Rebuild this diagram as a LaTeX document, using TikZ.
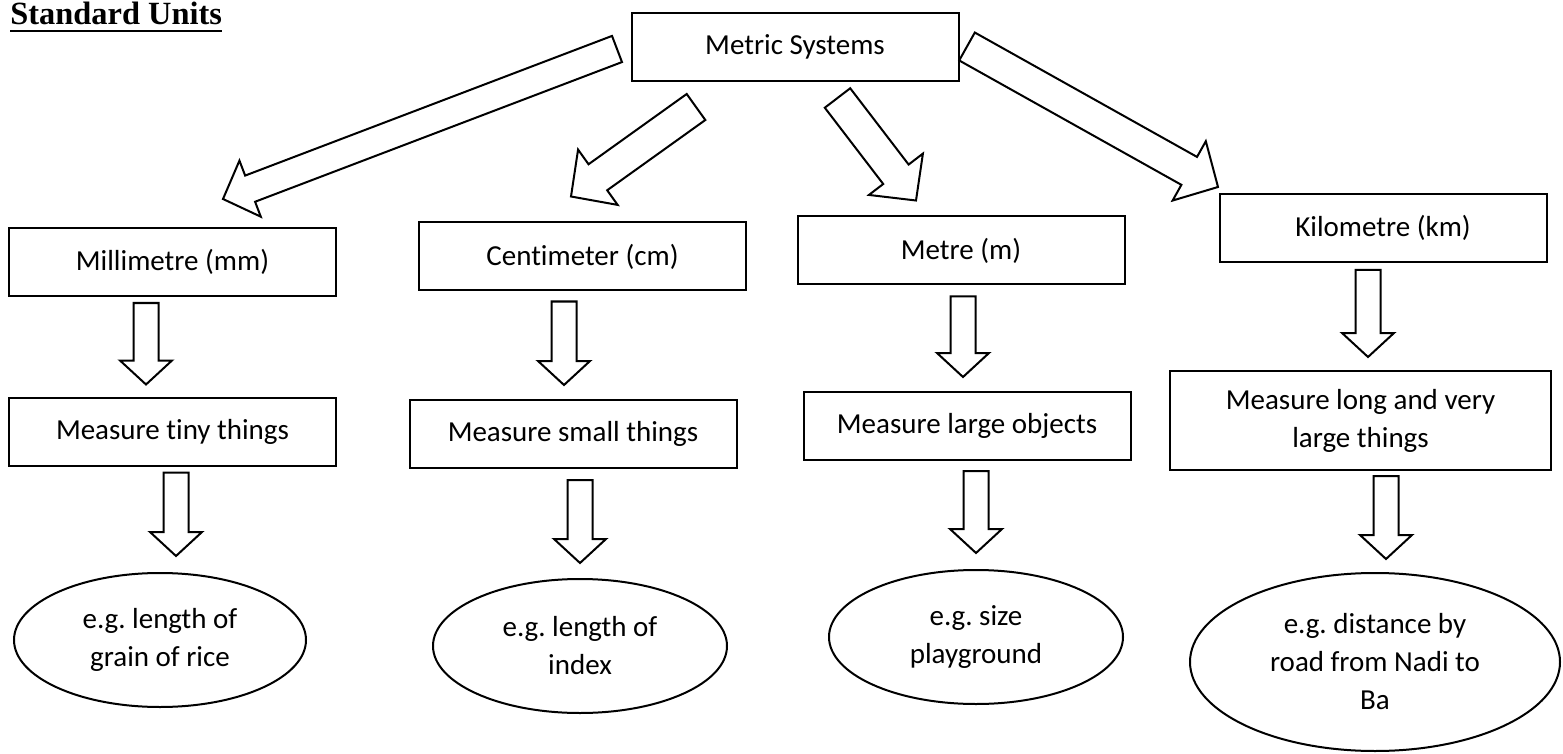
\documentclass[tikz,border=0pt]{standalone}
\usepackage{fontspec}
\setmainfont{Carlito}[Ligatures=NoCommon]
\newfontfamily\headfont{Liberation Serif}
\usetikzlibrary{calc,shapes.geometric}
\frenchspacing

\begin{document}
\begin{tikzpicture}[
  x=0.5pt, y=-0.5pt,
  font=\fontsize{14.5}{19}\selectfont,
  unitbox/.style={rectangle,draw=black,line width=1pt,fill=white,
                  minimum width=163.5pt,minimum height=34pt,inner sep=0pt,align=center},
  example/.style={ellipse,draw=black,line width=1pt,fill=white,
                  minimum width=147pt,minimum height=67pt,inner sep=0pt,align=center},
  hollow/.style n args={3}{draw=black,line width=1pt,fill=white,line join=miter,
    to path={let \p1=(\tikztostart), \p2=(\tikztotarget),
                 \n1={atan2(\y2-\y1,\x2-\x1)},
                 \n2={veclen(\x2-\x1,\y2-\y1)-#3},
                 \n3={#2-#1} in
      ($(\p1)+(\n1+90:#1)$) -- ++(\n1:\n2) -- ++(\n1+90:\n3) -- (\p2)
      -- ($(\p1)+(\n1:\n2)+(\n1-90:#2)$) -- ++(\n1+90:\n3)
      -- ++(\n1+180:\n2) -- cycle}},
  fanout/.style={hollow={8pt}{17pt}{16.5pt}},
  drop/.style={hollow={6.25pt}{13pt}{12pt}},
]
\fill[white] (0,0) rectangle (1563,754);
\useasboundingbox (0,0) rectangle (1563,754);

%% ---------------------------------------------------------------- title
\node[anchor=base west,inner sep=0pt,font={\headfont\bfseries\fontsize{16.2}{19}\selectfont}]
  (title) at (10,25)
  {\setbox0\hbox{Standard Units}\rlap{\rule[-3.5pt]{\wd0}{1pt}}\box0};

%% ---------------------------------------------------------------- units
\node[unitbox] (ms) at (795,47) {Metric Systems};
\node[unitbox] (mm) at (172.5,262) {Millimetre (mm)};
\node[unitbox] (cm) at (582.5,256.5) {Centimeter (cm)};
\node[unitbox] (m) at (961,250.5) {Metre (m)};
\node[unitbox] (km) at (1383,228) {Kilometre (km)};

%% ------------------------------------------------------------- measures
\node[unitbox] (tiny) at (172.5,431.5) {Measure tiny things};
\node[unitbox] (small) at (573,434) {Measure small things};
\node[unitbox] (large) at (967,426) {Measure large objects};
\node[unitbox,minimum width=190.5pt,minimum height=49.5pt] (long) at (1360.5,420.5)
  {Measure long and very\\ large things};

%% ------------------------------------------------------------- examples
\node[example,minimum width=146pt] (e1) at (160,640) {e.g. length of\\ grain of rice};
\node[example] (e2) at (580,646) {e.g. length of\\ index};
\node[example] (e3) at (976,637) {e.g. size\\ playground};
\node[example,minimum width=185pt,minimum height=89pt] (e4) at (1375,662)
  {e.g. distance by\\ road from Nadi to\\ Ba};

%% --------------------------------------------------------------- arrows
\draw[hollow={7pt}{15pt}{14.5pt}] ($(ms.west)+(-13.5,2)$) to ($(mm.north)+(50.5,-28)$);
\draw[fanout] ($(ms.south)+(-99,25)$) to ($(cm.north)+(-11.5,-25)$);
\draw[fanout] ($(ms.south)+(42.5,16)$) to ($(m.north)+(-45,-15)$);
\draw[fanout] ($(ms.east)+(7.5,-0.5)$) to ($(km.north)+(-165,-6)$);

\draw[drop] ($(mm.south)+(-26.5,6)$) to ($(tiny.north)+(-26.5,-12)$);
\draw[drop] ($(tiny.south)+(3.5,6)$) to ($(e1.north)+(16,-16)$);
\draw[drop] ($(cm.south)+(-18.5,10)$) to ($(small.north)+(-9,-14)$);
\draw[drop] ($(small.south)+(7,11)$) to ($(e2.north)+(0,-15)$);
\draw[drop] ($(m.south)+(2,11)$) to ($(large.north)+(-4,-14)$);
\draw[drop] ($(large.south)+(9,10)$) to ($(e3.north)+(0,-16)$);
\draw[drop] ($(km.south)+(-15,7)$) to ($(long.north)+(7.5,-13)$);
\draw[drop] ($(long.south)+(25.5,5)$) to ($(e4.north)+(11,-13)$);

\end{tikzpicture}
\end{document}
